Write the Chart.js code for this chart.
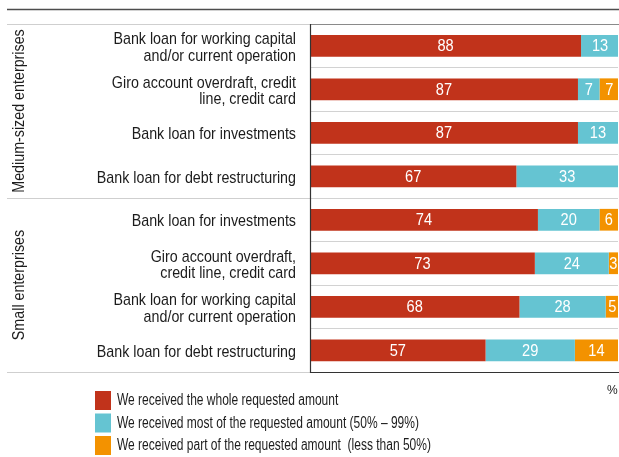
<!DOCTYPE html>
<html>
<head>
<meta charset="utf-8">
<script src="https://cdn.jsdelivr.net/npm/chart.js@4.4.1/dist/chart.umd.min.js"></script>
<style>
  html, body { margin: 0; padding: 0; background: #ffffff; }
  canvas { display: block; }
</style>
</head>
<body>
<canvas id="chart" width="619" height="457"></canvas>
<script>
// Loan request outcomes by enterprise size and loan type (shares, %)
const categories = [
  ["Bank loan for working capital", "and/or current operation"],
  ["Giro account overdraft, credit", "line, credit card"],
  ["Bank loan for investments"],
  ["Bank loan for debt restructuring"],
  ["Bank loan for investments"],
  ["Giro account overdraft,", "credit line, credit card"],
  ["Bank loan for working capital", "and/or current operation"],
  ["Bank loan for debt restructuring"]
];
const groupNames = ["Medium-sized enterprises", "Small enterprises"];
const groupSizes = [4, 4];

const seriesNames = [
  "We received the whole requested amount",
  "We received most of the requested amount (50% \u2013 99%)",
  "We received part of the requested amount  (less than 50%)"
];
const wholeAmount = [88, 87, 87, 67, 74, 73, 68, 57];
const mostAmount  = [13, 7, 13, 33, 20, 24, 28, 29];
const partAmount  = [0, 7, 0, 0, 6, 3, 5, 14];
const seriesColors = ["#c1331b", "#65c4d2", "#f39200"];
const axisUnit = "%";

const FONT = '"Liberation Sans", Arial, sans-serif';
const NARROW = 0.84;   // horizontal squeeze for a condensed look
const TEXT = "#1c1c1c";

// draw text squeezed horizontally around its anchor point
function narrowText(ctx, text, x, y, sx) {
  ctx.save();
  ctx.translate(x, y);
  ctx.scale(sx, 1);
  ctx.fillText(text, 0, 0);
  ctx.restore();
}

const overlay = {
  id: "overlay",
  afterDatasetsDraw(chart) {
    const { ctx, chartArea: a } = chart;
    ctx.save();
    ctx.beginPath();
    ctx.rect(a.left, a.top, chart.width - a.left, a.bottom - a.top);
    ctx.clip();
    ctx.fillStyle = "#ffffff";
    ctx.font = "17px " + FONT;
    ctx.textAlign = "center";
    ctx.textBaseline = "middle";
    chart.data.datasets.forEach((ds, di) => {
      const meta = chart.getDatasetMeta(di);
      meta.data.forEach((bar, i) => {
        const v = ds.data[i];
        if (!v) return;
        const lo = Math.min(bar.base, bar.x);
        const hi = Math.min(Math.max(bar.base, bar.x), chart.width);
        narrowText(ctx, String(v), (lo + hi) / 2, bar.y + 1, 0.86);
      });
    });
    ctx.restore();
  },
  afterDraw(chart) {
    const { ctx, chartArea: a, scales: { y } } = chart;
    const line = (x1, y1, x2, y2, color, w) => {
      ctx.strokeStyle = color;
      ctx.lineWidth = w || 1;
      ctx.beginPath();
      ctx.moveTo(x1, y1);
      ctx.lineTo(x2, y2);
      ctx.stroke();
    };
    ctx.save();

    // top rule
    line(7, 9.5, chart.width, 9.5, "#4d4d4d", 1.5);

    // group separators in the label column
    const half = (y.getPixelForValue(1) - y.getPixelForValue(0)) / 2;
    let start = 0;
    const bounds = [Math.round(a.top) + 0.5];
    groupSizes.forEach(n => {
      const end = start + n - 1;
      bounds.push(Math.round(y.getPixelForValue(end) + half) + 0.5);
      start += n;
    });
    bounds.forEach(by => line(7, by, a.left, by, "#cfcfcf", 1));

    // plot frame
    line(a.left, a.top + 0.5, chart.width, a.top + 0.5, "#8a8a8a", 1);
    line(a.left + 0.5, a.top, a.left + 0.5, a.bottom + 1, "#333333", 1.2);
    line(a.left, a.bottom + 0.5, chart.width, a.bottom + 0.5, "#333333", 1.2);

    // category labels
    ctx.fillStyle = TEXT;
    ctx.font = "17px " + FONT;
    ctx.textAlign = "right";
    ctx.textBaseline = "middle";
    const lh = 16.5;
    categories.forEach((lines, i) => {
      const cy = y.getPixelForValue(i) + 2;
      const y0 = cy - (lines.length - 1) * lh / 2;
      lines.forEach((t, k) => narrowText(ctx, t, 296, y0 + k * lh, NARROW));
    });

    // group labels (vertical)
    ctx.font = "17px " + FONT;
    ctx.textAlign = "center";
    start = 0;
    groupNames.forEach((g, gi) => {
      const n = groupSizes[gi];
      const cy = (y.getPixelForValue(start) + y.getPixelForValue(start + n - 1)) / 2;
      ctx.save();
      ctx.translate(19, cy);
      ctx.rotate(-Math.PI / 2);
      narrowText(ctx, g, 0, 0, NARROW);
      ctx.restore();
      start += n;
    });

    // unit
    ctx.font = "12px " + FONT;
    ctx.textAlign = "left";
    ctx.fillText(axisUnit, 607, 391);

    // legend
    ctx.font = "16px " + FONT;
    const legendTops = [391, 413.5, 436];
    seriesNames.forEach((name, i) => {
      ctx.fillStyle = seriesColors[i];
      ctx.fillRect(95, legendTops[i], 16, 19);
      ctx.fillStyle = TEXT;
      narrowText(ctx, name, 117, legendTops[i] + 10, 0.75);
    });

    ctx.restore();
  }
};

new Chart(document.getElementById("chart"), {
  type: "bar",
  data: {
    labels: categories,
    datasets: [wholeAmount, mostAmount, partAmount].map((d, i) => ({
      label: seriesNames[i],
      data: d,
      backgroundColor: seriesColors[i],
      borderWidth: 0,
      barPercentage: 0.5,
      categoryPercentage: 1
    }))
  },
  options: {
    indexAxis: "y",
    responsive: false,
    animation: false,
    devicePixelRatio: 1,
    layout: { padding: { left: 310, top: 24, right: 1, bottom: 85 } },
    plugins: { legend: { display: false }, tooltip: { enabled: false } },
    scales: {
      x: { stacked: true, min: 0, max: 100, display: false },
      y: {
        stacked: true,
        ticks: { display: false },
        grid: { offset: true, drawTicks: false, color: "#d2d2d2", lineWidth: 1 },
        border: { display: false },
        afterFit: s => { s.width = 0; }
      }
    }
  },
  plugins: [overlay]
});
</script>
</body>
</html>
